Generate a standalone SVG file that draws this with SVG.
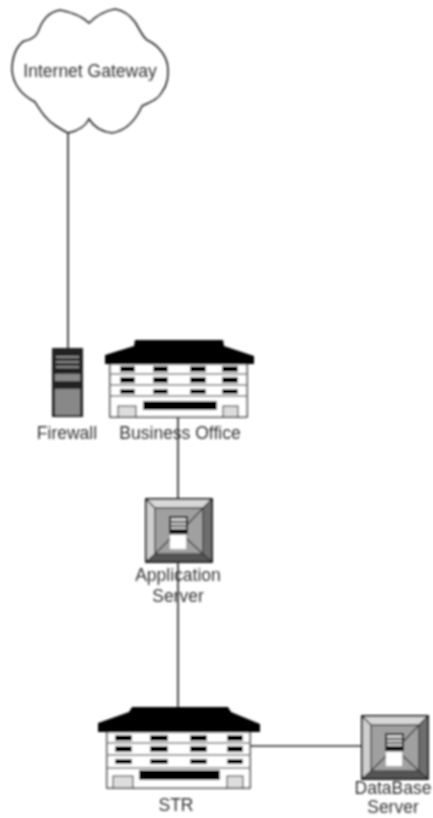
<svg xmlns="http://www.w3.org/2000/svg" width="433" height="818" viewBox="0 0 433 818">
<style>
text{font-family:"Liberation Sans",Arial,sans-serif;font-size:17.5px;fill:#333;text-anchor:middle}
.c{stroke:#222;stroke-width:1.6;fill:none}
.k{fill:#000}
</style>
<defs>
<filter id="b" filterUnits="userSpaceOnUse" x="0" y="0" width="433" height="818"><feGaussianBlur stdDeviation="0.9"/></filter>
<g id="srv">
<rect x="0" y="0" width="66" height="63" fill="#9a9a9a" stroke="#222" stroke-width="2"/>
<polygon points="1,1 65,1 57,9 9,9" fill="#d8d8d8"/>
<polygon points="1,1 9,9 9,55 1,62" fill="#cfcfcf"/>
<polygon points="65,1 57,9 57,55 65,62" fill="#6e6e6e"/>
<polygon points="1,62 9,55 57,55 65,62" fill="#555"/>
<rect x="9" y="9" width="48" height="46" fill="#a0a0a0" stroke="#444" stroke-width="1.5"/>
<path d="M1,1L9,9M65,1L57,9M1,62L9,55M65,62L57,55M57,9L41,26M9,55L24,40M41,40L57,55" stroke="#333" fill="none" stroke-width="1.2"/>
<rect x="24" y="18" width="17" height="16" fill="#ccc" stroke="#111" stroke-width="2"/>
<path d="M25,23H40M25,27H40" stroke="#333" stroke-width="1.5"/>
<rect x="24" y="30" width="17" height="5" fill="#111"/>
<rect x="24" y="36" width="16" height="14" fill="#fff"/>
</g>
</defs>
<rect width="433" height="818" fill="#fff"/>
<g filter="url(#b)">
<g id="connectors" class="c">
<path d="M68,133V348"/>
<path d="M178,417V499"/>
<path d="M178,563V707"/>
<path d="M250,746H362"/>
</g>
<g id="internet-gateway">
<path class="c" fill="#fff" d="M89,23C84,18 76,13 60,10C48,12 42,20 38,32C35,38 30,40 24,41C16,46 12,58 12,70C13,84 20,94 35,102C40,110 46,120 56,126C62,130 66,132 68,133C78,131 85,127 89,119C94,127 103,132 112,133C124,131 135,122 142,106C150,102 158,100 162,92C168,84 168,76 168,70C168,58 160,46 147,40C142,36 140,30 135,22C129,14 122,10 115,9C104,11 96,16 89,23Z"/>
<text x="90" y="77">Internet Gateway</text>
</g>
<g id="firewall">
<rect x="52" y="348" width="31" height="69" fill="#222"/>
<path d="M56,357H79M56,362H79M56,367H79" stroke="#aaa" stroke-width="1.5"/>
<rect x="55" y="374" width="25" height="7" fill="#888"/>
<rect x="55" y="389" width="25" height="26" fill="#888"/>
<text x="67" y="439">Firewall</text>
</g>
<g id="business-office">
<rect x="110" y="364" width="137" height="53" fill="#fff" stroke="#333" stroke-width="1.5"/>
<path d="M110,374H247M110,385H247M110,396H247" stroke="#777" stroke-width="1.5"/>
<polygon class="k" points="135,340 223,340 224,346 254,356 254,364 105,364 105,355 134,346"/>
<g class="k">
<rect x="120" y="366" width="15" height="6"/><rect x="153" y="366" width="15" height="6"/><rect x="190" y="366" width="16" height="6"/><rect x="222" y="366" width="16" height="6"/>
<rect x="120" y="377" width="15" height="6"/><rect x="153" y="377" width="15" height="6"/><rect x="190" y="377" width="16" height="6"/><rect x="222" y="377" width="16" height="6"/>
<rect x="120" y="389" width="15" height="5"/><rect x="153" y="389" width="15" height="5"/><rect x="190" y="389" width="16" height="5"/><rect x="222" y="389" width="16" height="5"/>
<rect x="143" y="401" width="74" height="9"/>
</g>
<rect x="118" y="406" width="18" height="11" fill="#ddd" stroke="#333"/>
<rect x="223" y="406" width="15" height="11" fill="#ddd" stroke="#333"/>
<text x="180" y="439">Business Office</text>
</g>
<g id="application-server">
<use href="#srv" x="146" y="499"/>
<text x="178" y="581">Application</text>
<text x="178" y="602">Server</text>
</g>
<g id="str">
<rect x="107" y="732" width="143" height="56" fill="#fff" stroke="#333" stroke-width="1.5"/>
<path d="M107,743H250M107,755H250M107,768H250" stroke="#777" stroke-width="1.5"/>
<polygon class="k" points="132,707 228,707 231,712 260,724 260,732 98,732 98,723 129,712"/>
<g class="k">
<rect x="115" y="735" width="17" height="6"/><rect x="150" y="735" width="18" height="6"/><rect x="190" y="735" width="17" height="6"/><rect x="227" y="735" width="16" height="6"/>
<rect x="115" y="746" width="17" height="6"/><rect x="150" y="746" width="18" height="6"/><rect x="190" y="746" width="17" height="6"/><rect x="227" y="746" width="16" height="6"/>
<rect x="115" y="759" width="17" height="5"/><rect x="150" y="759" width="18" height="5"/><rect x="190" y="759" width="17" height="5"/><rect x="227" y="759" width="16" height="5"/>
<rect x="139" y="770" width="81" height="10"/>
</g>
<rect x="113" y="776" width="20" height="12" fill="#ddd" stroke="#333"/>
<rect x="227" y="776" width="16" height="12" fill="#ddd" stroke="#333"/>
<text x="176" y="811">STR</text>
</g>
<g id="database-server">
<use href="#srv" x="362" y="716"/>
<text x="393" y="794">DataBase</text>
<text x="393" y="813">Server</text>
</g>
</g>
</svg>
